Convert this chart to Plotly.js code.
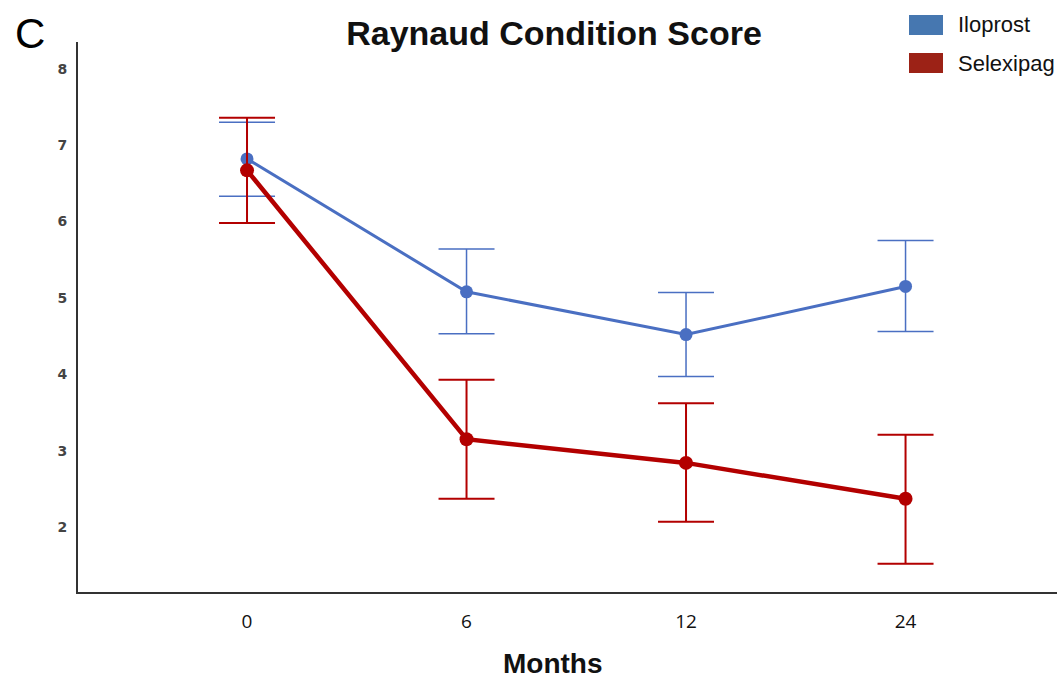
<!DOCTYPE html>
<html>
<head>
<meta charset="utf-8">
<script src="https://cdn.plot.ly/plotly-3.0.1.min.js"></script>
<style>html,body{margin:0;padding:0;background:#fff;}#chart{width:1064px;height:678px;}</style>
</head>
<body>
<div id="chart"></div>
<script>
const months = ["0", "6", "12", "24"];
const iloprostMean = [6.82, 5.08, 4.52, 5.15];
const iloprostUpper = [7.30, 5.64, 5.07, 5.75];
const iloprostLower = [6.33, 4.53, 3.97, 4.56];
const selexipagMean = [6.67, 3.15, 2.84, 2.37];
const selexipagUpper = [7.36, 3.93, 3.62, 3.21];
const selexipagLower = [5.98, 2.37, 2.07, 1.52];
const seriesNames = ["Iloprost", "Selexipag"];
const lineColors = ["#4a6fc2", "#b30000"];
const legendColors = ["#4677b0", "#9c2216"];

function errs(mean, up, lo) {
  return {
    plus: mean.map((m, i) => +(up[i] - m).toFixed(3)),
    minus: mean.map((m, i) => +(m - lo[i]).toFixed(3))
  };
}
const eI = errs(iloprostMean, iloprostUpper, iloprostLower);
const eS = errs(selexipagMean, selexipagUpper, selexipagLower);

const traces = [
  {
    x: months, y: iloprostMean, type: "scatter", mode: "lines+markers", name: seriesNames[0],
    line: {color: lineColors[0], width: 3}, marker: {color: lineColors[0], size: 13},
    error_y: {type: "data", symmetric: false, array: eI.plus, arrayminus: eI.minus,
      color: lineColors[0], thickness: 1.5, width: 28},
    showlegend: false, hoverinfo: "x+y"
  },
  {
    x: months, y: selexipagMean, type: "scatter", mode: "lines+markers", name: seriesNames[1],
    line: {color: lineColors[1], width: 4.5}, marker: {color: lineColors[1], size: 14},
    error_y: {type: "data", symmetric: false, array: eS.plus, arrayminus: eS.minus,
      color: lineColors[1], thickness: 2, width: 28},
    showlegend: false, hoverinfo: "x+y"
  }
];

// plot area in px: left 78, right 1057, top 42, bottom 592
const L = 78, R = 1057, T = 42, B = 592;
const px = v => (v - L) / (R - L);
const py = v => (B - v) / (B - T);

const shapes = [];
const annotations = [
  {text: "C", xref: "paper", yref: "paper", x: px(13), y: py(33), xanchor: "left", yanchor: "middle",
   showarrow: false, font: {family: "Liberation Sans, Arial, sans-serif", size: 42, color: "#000"}},
  {text: "<b>Months</b>", xref: "paper", yref: "paper", x: px(553), y: py(663), xanchor: "center", yanchor: "middle",
   showarrow: false, font: {family: "Liberation Sans, Arial, sans-serif", size: 28, color: "#111"}}
];
seriesNames.forEach((n, i) => {
  const yc = 25 + i * 38;
  shapes.push({type: "rect", xref: "paper", yref: "paper", x0: px(909), x1: px(943), y0: py(yc - 10), y1: py(yc + 10),
    fillcolor: legendColors[i], line: {width: 0}});
  annotations.push({text: n, xref: "paper", yref: "paper", x: px(956), y: py(yc), xanchor: "left", yanchor: "middle",
    showarrow: false, font: {family: "Liberation Sans, Arial, sans-serif", size: 22, color: "#111"}});
});

const layout = {
  width: 1064, height: 678,
  margin: {l: L, r: 1064 - R, t: T, b: 678 - B},
  paper_bgcolor: "#fff", plot_bgcolor: "#fff",
  title: {text: "<b>Raynaud Condition Score</b>", x: 554 / 1064, xanchor: "center", y: 1 - 33 / 678, yanchor: "middle",
    font: {family: "Liberation Sans, Arial, sans-serif", size: 34, color: "#111"}},
  xaxis: {
    type: "category", range: [-0.77, 3.69], showgrid: false, zeroline: false,
    showline: true, linecolor: "#333", linewidth: 2,
    ticks: "outside", ticklen: 11, tickcolor: "rgba(0,0,0,0)",
    tickfont: {family: "Open Sans, sans-serif", size: 19, color: "#111"}
  },
  yaxis: {
    range: [1.15, 8.35], tickvals: [2, 3, 4, 5, 6, 7, 8], showgrid: false, zeroline: false,
    showline: true, linecolor: "#333", linewidth: 2,
    ticks: "outside", ticklen: 6, tickcolor: "rgba(0,0,0,0)",
    tickfont: {family: "DejaVu Sans, sans-serif", size: 14, color: "#444", weight: "bold"}
  },
  shapes: shapes,
  annotations: annotations,
  showlegend: false
};

Plotly.newPlot("chart", traces, layout, {displayModeBar: false, responsive: false});
</script>
</body>
</html>
